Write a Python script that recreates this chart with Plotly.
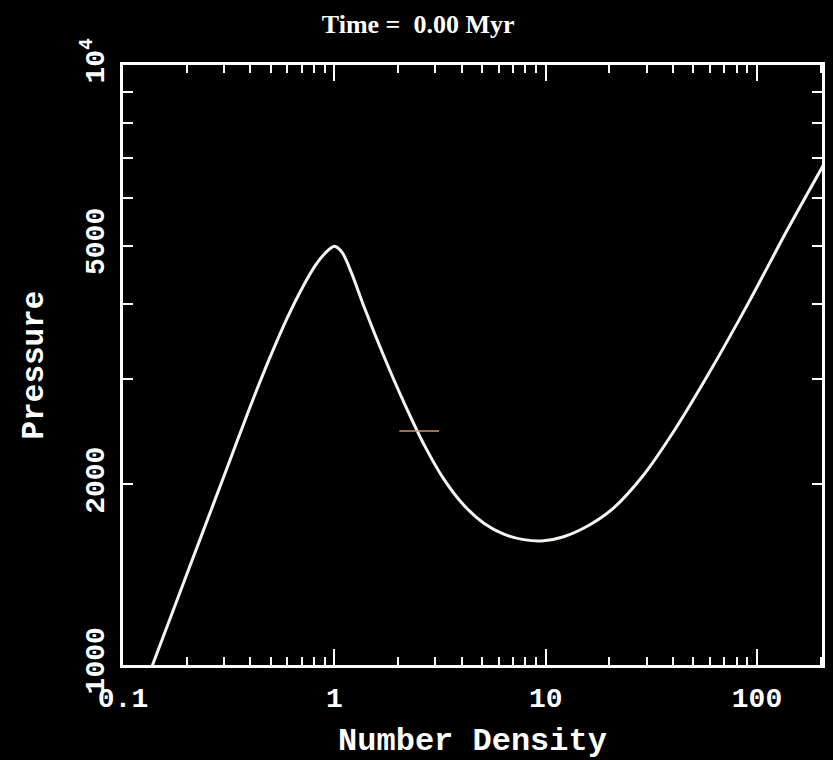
import plotly.graph_objects as go

# Data
density = [0.1341, 0.1759, 0.2307, 0.3028, 0.3972, 0.4936, 0.6002, 0.7067, 0.8135, 0.9069, 1.0,
           1.0907, 1.2028, 1.3849, 1.7213, 2.1384, 2.6576, 3.3029, 4.104, 5.100, 6.338,
           7.875, 9.786, 12.16, 15.95, 20.93, 29.00, 40.17, 58.73, 90.70, 140.0, 211.6]
pressure = [974, 1254, 1615, 2080, 2679, 3243, 3798, 4259, 4634, 4861, 4988,
            4867, 4511, 3947, 3261, 2735, 2330, 2039, 1846, 1723, 1652,
            1618, 1611, 1636, 1708, 1826, 2071, 2445, 3049, 4002, 5333, 6923]

marker_density = [2.03, 3.13]
marker_pressure = [2454, 2454]

x_major = [0.1, 1, 10, 100]
x_major_text = ["0.1", "1", "10", "100"]
x_minor = [m * d for d in (0.1, 1, 10, 100) for m in range(2, 10) if m * d < 210]

y_major = [1000, 2000, 5000, 10000]
y_major_text = ["1000", "2000", "5000", "10<sup>4</sup>"]
y_minor = [3000, 4000, 6000, 7000, 8000, 9000]

title_text = "Time =  0.00 Myr"
x_title = "Number Density"
y_title = "Pressure"

MONO = "Liberation Mono"
SERIF = "Liberation Serif"

fig = go.Figure()
fig.add_trace(go.Scatter(
    x=density, y=pressure, mode="lines",
    line=dict(color="#f4f4f0", width=3, shape="spline", smoothing=0.8),
    showlegend=False, hoverinfo="skip"))
fig.add_trace(go.Scatter(
    x=marker_density, y=marker_pressure, mode="lines",
    line=dict(color="#c89a70", width=1.5),
    showlegend=False, hoverinfo="skip"))

fig.update_layout(
    width=833, height=760,
    margin=dict(l=123, r=8, t=65, b=92),
    paper_bgcolor="black", plot_bgcolor="black",
    title=dict(text="<b>" + title_text + "</b>", x=0.502, xanchor="center", y=0.968,
               yanchor="middle",
               font=dict(family=SERIF, size=26, color="white")),
    xaxis=dict(
        type="log", range=[-1, 2.3075],
        tickmode="array", tickvals=x_major, ticktext=x_major_text,
        ticks="inside", ticklen=16, tickwidth=2, tickcolor="white",
        ticklabelstandoff=6,
        showline=True, linecolor="white", linewidth=2.5, mirror="allticks",
        showgrid=False, zeroline=False,
        tickfont=dict(family=MONO, size=28, color="white", weight="bold"),
        minor=dict(tickvals=x_minor, ticks="inside", ticklen=8, tickwidth=2,
                   tickcolor="white", showgrid=False),
        title=dict(text=x_title, standoff=14,
                   font=dict(family=MONO, size=32, color="white", weight="bold")),
    ),
    yaxis=dict(
        type="log", range=[3, 4],
        tickmode="array", tickvals=y_major, ticktext=y_major_text,
        tickangle=-90,
        ticks="inside", ticklen=10, tickwidth=2, tickcolor="white",
        ticklabelstandoff=5,
        showline=True, linecolor="white", linewidth=2.5, mirror="allticks",
        showgrid=False, zeroline=False,
        tickfont=dict(family=MONO, size=28, color="white", weight="bold"),
        minor=dict(tickvals=y_minor, ticks="inside", ticklen=10, tickwidth=2,
                   tickcolor="white", showgrid=False),
        title=dict(text=y_title, standoff=24,
                   font=dict(family=MONO, size=31, color="white", weight="bold")),
    ),
)

fig.write_html("out.html")
